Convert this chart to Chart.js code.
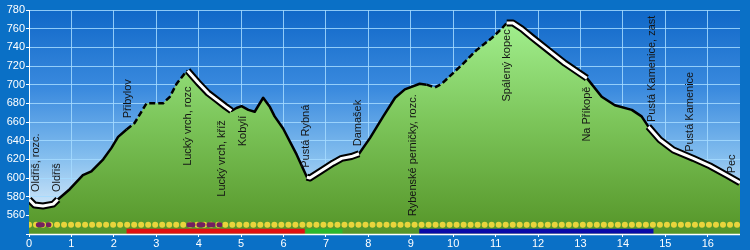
<!DOCTYPE html>
<html>
<head>
<meta charset="utf-8">
<script src="https://cdn.jsdelivr.net/npm/chart.js@4"></script>
<style>
  html, body { margin: 0; padding: 0; background: #0a70c6; }
  canvas { display: block; }
</style>
</head>
<body>
<canvas id="profile" width="750" height="250"></canvas>
<script>
// elevation profile (km, m)
const distances = [0.00, 0.13, 0.33, 0.57, 0.68, 0.96, 1.27, 1.47, 1.75, 1.94, 2.10, 2.30, 2.49, 2.77, 3.16, 3.32, 3.48, 3.67, 3.74, 3.99, 4.22, 4.42, 4.62, 4.77, 4.89, 5.01, 5.17, 5.32, 5.52, 5.68, 5.79, 5.99, 6.31, 6.55, 6.62, 6.86, 7.17, 7.37, 7.60, 7.78, 8.04, 8.35, 8.63, 8.86, 9.21, 9.37, 9.57, 9.73, 10.20, 10.55, 10.91, 11.14, 11.26, 11.41, 11.61, 11.85, 12.24, 12.63, 13.15, 13.50, 13.81, 14.21, 14.44, 14.60, 14.87, 15.19, 15.66, 16.05, 16.45, 16.76];
const elevations = [577, 571, 570, 572, 577, 588, 603, 607, 620, 632, 644, 652, 659, 680, 680, 687, 701, 712, 715, 702, 691, 684, 677, 672, 675, 677, 673, 671, 686, 676, 666, 653, 625, 601, 600, 607, 616, 621, 623, 626, 643, 666, 686, 695, 701, 700, 697, 701, 721, 737, 750, 760, 766, 766, 760, 751, 737, 723, 707, 687, 678, 673, 666, 655, 641, 630, 621, 613, 603, 595];

// track kinds along the route
const whiteStretches = [[0, 0.68], [3.74, 4.8], [6.55, 7.78], [11.26, 13.15], [14.55, 16.76]];
const dashedStretches = [[2.3, 3.74], [9.45, 11.26]];

// waypoints
const stopNames = ["Oldřiš, rozc.", "Oldřiš", "Přibylov", "Lucký vrch, rozc", "Lucký vrch, kříž", "Kobylí", "Pustá Rybná", "Damašek", "Rybenské perničky, rozc.", "Spálený kopec", "Na Příkopě", "Pustá Kamenice, zast", "Pustá Kamenice", "Pec"];
const stopKm = [0.17, 0.65, 2.34, 3.75, 4.54, 5.05, 6.54, 7.76, 9.05, 11.26, 13.15, 14.68, 15.58, 16.56];
const stopLabelBase = [585, 585, 664, 613, 580, 634, 611, 634, 559, 682, 639, 660, 628, 605];

// marker rows under the profile
const trackEnd = 16.76;
const purpleStretches = [[0.22, 0.47], [3.77, 4.5]];
const barStretches = [[2.3, 6.5], [6.52, 7.39], [9.2, 14.72]];
const barColors = ["#e01010", "#2cb82c", "#0a0aa8"];

const clear = "rgba(0,0,0,0)";
const points = distances.map((d, i) => ({ x: d, y: elevations[i] }));

const inStretch = (stretches, ctx) => {
  const mid = (ctx.p0.parsed.x + ctx.p1.parsed.x) / 2;
  return stretches.some((s) => mid > s[0] && mid < s[1]);
};

const greenFill = (ctx) => {
  const area = ctx.chart.chartArea;
  if (!area) return "#7cc85c";
  const g = ctx.chart.ctx.createLinearGradient(0, area.top, 0, area.bottom);
  g.addColorStop(0, "#a6f494");
  g.addColorStop(0.5, "#7cc55a");
  g.addColorStop(1, "#559528");
  return g;
};

const frame = {
  id: "frame",
  beforeDraw(chart) {
    const { ctx, chartArea: a } = chart;
    ctx.save();
    ctx.fillStyle = "#0a70c6";
    ctx.fillRect(0, 0, chart.width, chart.height);
    const g = ctx.createLinearGradient(0, a.top, 0, a.bottom);
    g.addColorStop(0, "#1068c8");
    g.addColorStop(0.35, "#3a8ade");
    g.addColorStop(0.65, "#82bdee");
    g.addColorStop(0.88, "#cde5f8");
    g.addColorStop(1, "#dcefff");
    ctx.fillStyle = g;
    ctx.fillRect(a.left, a.top, a.right - a.left, a.bottom - a.top);
    ctx.restore();
  },
  afterDatasetsDraw(chart) {
    const { ctx, chartArea: a, scales: { x, y } } = chart;
    ctx.save();
    ctx.strokeStyle = "#ffffff";
    ctx.lineWidth = 1.5;
    ctx.beginPath();
    ctx.moveTo(a.left, a.bottom + 0.5);
    ctx.lineTo(a.right, a.bottom + 0.5);
    ctx.stroke();

    ctx.font = '11px "Liberation Sans", Arial, sans-serif';
    ctx.fillStyle = "#141414";
    ctx.textAlign = "left";
    ctx.textBaseline = "middle";
    stopNames.forEach((name, i) => {
      ctx.save();
      ctx.translate(x.getPixelForValue(stopKm[i]), y.getPixelForValue(stopLabelBase[i]));
      ctx.rotate(-Math.PI / 2);
      ctx.fillText(name, 0, 0);
      ctx.restore();
    });
    ctx.restore();
  }
};

const datasets = [
  {
    data: points, order: 1, borderWidth: 3, borderColor: clear, pointRadius: 0, fill: false,
    borderJoinStyle: "round",
    segment: { borderColor: (ctx) => (inStretch(whiteStretches, ctx) ? "#ffffff" : clear) }
  },
  {
    data: points, order: 2, borderWidth: 7, borderColor: clear, pointRadius: 0, fill: false,
    borderJoinStyle: "round",
    segment: { borderColor: (ctx) => (inStretch(whiteStretches, ctx) ? "#000000" : clear) }
  },
  {
    data: points, order: 3, borderWidth: 2.5, borderColor: "#000000", pointRadius: 0, fill: false,
    borderJoinStyle: "round",
    segment: { borderDash: (ctx) => (inStretch(dashedStretches, ctx) ? [6, 3] : undefined) }
  }
];

barStretches.forEach((s, i) => {
  datasets.push({
    data: [{ x: s[0], y: 543 }, { x: s[1], y: 543 }],
    order: 4, borderColor: barColors[i], borderWidth: 5, pointRadius: 0, fill: false
  });
});

purpleStretches.forEach((s) => {
  datasets.push({
    data: [{ x: s[0], y: 550 }, { x: s[1], y: 550 }],
    order: 4, borderColor: "#74205f", borderWidth: 5, borderDash: [4, 6],
    borderCapStyle: "round", pointRadius: 0, fill: false
  });
});

datasets.push({
  data: [{ x: 0, y: 550 }, { x: trackEnd, y: 550 }],
  order: 5, borderColor: "#e8d43c", borderWidth: 6, borderDash: [0.01, 7],
  borderCapStyle: "round", pointRadius: 0, fill: false
});

// green area under the profile, no segment styling so it fills in one piece
datasets.push({
  data: points, order: 6, borderWidth: 0, borderColor: clear, pointRadius: 0,
  fill: "start", backgroundColor: greenFill
});

new Chart(document.getElementById("profile"), {
  type: "line",
  data: { datasets: datasets },
  options: {
    responsive: false,
    animation: false,
    layout: { padding: { top: 10, right: 10, left: 0, bottom: 0 } },
    plugins: { legend: { display: false }, tooltip: { enabled: false } },
    scales: {
      x: {
        type: "linear", min: 0, max: trackEnd,
        afterFit: (scale) => { scale.height = 16; },
        border: { display: false },
        grid: { color: "rgba(165,218,255,0.85)", tickColor: "#ffffff", tickLength: 3 },
        ticks: {
          stepSize: 1, includeBounds: false, padding: 0, maxRotation: 0,
          color: "#ffffff", font: { family: '"Liberation Sans", Arial, sans-serif', size: 11 }
        }
      },
      y: {
        min: 540, max: 780,
        afterFit: (scale) => { scale.width = 29; },
        border: { display: true, color: "#ffffff" },
        grid: { color: "rgba(165,218,255,0.85)", tickColor: "#ffffff", tickLength: 3 },
        ticks: {
          stepSize: 20, padding: 1,
          color: "#ffffff", font: { family: '"Liberation Sans", Arial, sans-serif', size: 11 },
          callback: (v) => (v === 540 ? "" : v)
        }
      }
    }
  },
  plugins: [frame]
});
</script>
</body>
</html>
